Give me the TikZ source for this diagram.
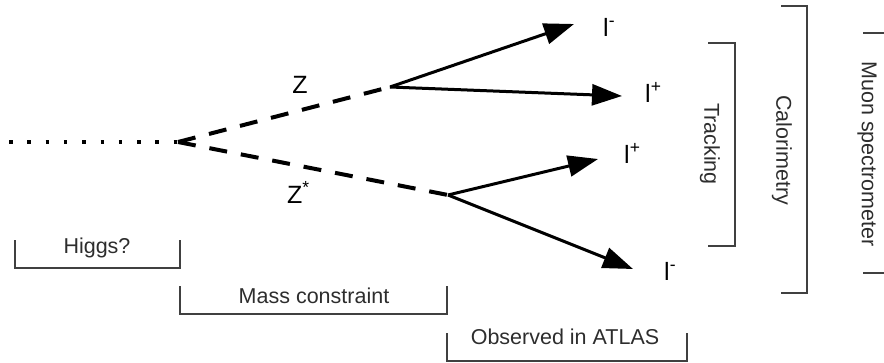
\documentclass[tikz,border=0pt]{standalone}
\usepackage{fontspec}
\setmainfont{Liberation Sans}
\usetikzlibrary{positioning,arrows.meta}
\definecolor{bracketgrey}{HTML}{404040}
\tikzset{
  higgsline/.style={line width=4pt,dash pattern=on 3.5pt off 14.8pt},
  boson/.style={line width=4pt,dash pattern=on 18pt off 14pt},
  lepton/.style={-{Triangle[length=30pt,width=21pt]},line width=3pt},
  bracket/.style={line width=1.6pt,draw=bracketgrey},
  lab/.style={font=\fontsize{25}{28}\selectfont,inner sep=0},
  det/.style={font=\fontsize{21.5}{24}\selectfont,inner sep=0,text=bracketgrey!70!black},
  detv/.style={det,rotate=-90},
}
\begin{document}
\begin{tikzpicture}[x=1pt,y=-1pt]
  \useasboundingbox (0,0) rectangle (884,362);
  % the decay chain
  \coordinate (start) at (9,142);
  \coordinate (H) at (178,142);
  \coordinate (Z) at (390,87);
  \coordinate (Zs) at (448,195);
  \draw[higgsline] (start) -- (H);
  \draw[boson] (H) -- (Z);
  \draw[boson] (H) -- (Zs);
  \node[lab,anchor=base] (Zlab) at (300,93) {Z};
  \node[lab,anchor=base] (Zslab) at (298.5,203) {Z\textsuperscript{*}};
  % leptons
  \coordinate (t1) at (574,24);
  \coordinate (t2) at (622,96);
  \coordinate (t3) at (598,159);
  \coordinate (t4) at (633,269);
  \draw[lepton] (Z) -- (t1);
  \draw[lepton] (Z) -- (t2);
  \draw[lepton] (Zs) -- (t3);
  \draw[lepton] (Zs) -- (t4);
  \node[lab,anchor=base west] (l1) at (603,36) {l\textsuperscript{-}};
  \node[lab,anchor=base west] (l2) at (645,102) {l\textsuperscript{+}};
  \node[lab,anchor=base west] (l3) at (624,163) {l\textsuperscript{+}};
  \node[lab,anchor=base west] (l4) at (664,280) {l\textsuperscript{-}};
  % what is seen where
  \draw[bracket] (15,240) |- (180,268) -- (180,240);
  \node[det,anchor=base] (higgs) at (97,253) {Higgs?};
  \draw[bracket] (180,286) |- (447,314) -- (447,286);
  \node[det,anchor=base] (mass) at (314,303) {Mass constraint};
  \draw[bracket] (447,333) |- (687,361) -- (687,333);
  \node[det,anchor=base] (atlas) at (565,344) {Observed in ATLAS};
  % detector layers
  \draw[bracket] (708,43) -| (735,246) -- (708,246);
  \node[detv] (track) at (710,144) {Tracking};
  \draw[bracket] (781,6) -| (807,293) -- (781,293);
  \node[detv] (calo) at (782,150) {Calorimetry};
  \draw[bracket] (863,33) -- (884,33);
  \draw[bracket] (863,273) -- (884,273);
  \node[detv] (muon) at (867,154) {Muon spectrometer};
\end{tikzpicture}
\end{document}
